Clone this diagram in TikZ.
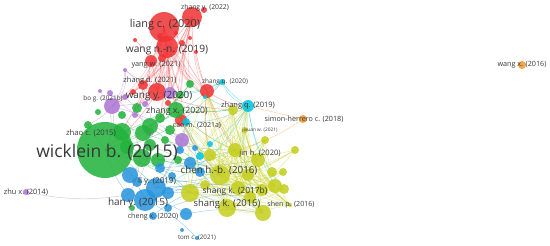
\documentclass[tikz,border=0pt]{standalone}
\usepackage{fontspec}
\setsansfont{Open Sans}
\usepackage{xcolor}
\definecolor{vosred}{RGB}{240,50,52}
\definecolor{vosgreen}{RGB}{34,178,60}
\definecolor{vosblue}{RGB}{38,148,220}
\definecolor{vosyellow}{RGB}{196,206,28}
\definecolor{vospurple}{RGB}{172,118,212}
\definecolor{voscyan}{RGB}{0,196,222}
\definecolor{vosorange}{RGB}{244,150,44}
\usetikzlibrary{positioning}
\pgfdeclarelayer{background}
\pgfsetlayers{background,main}

\begin{document}
\begin{tikzpicture}[x=1pt,y=-1pt,
  paper/.style={circle,inner sep=0pt,draw=none,fill opacity=0.86},
  link/.style={line width=0.5pt,draw opacity=0.42},
  lbl/.style={inner sep=0pt,text=black!78,font=\sffamily}]
  \useasboundingbox (0,0) rectangle (550,246);
  % papers
  \foreach \n/\x/\y/\r/\c in {
    r1/164/27/15/vosred, r2/192/17/10/vosred, r3/204/10/3/vosred,
    r4/167/47/11/vosred, r5/162/58/4/vosred, r6/151/61/6/vosred,
    r7/135/40/2/vosred, r8/182/43/3/vosred, r9/196/52/2/vosred,
    r10/190/38/2/vosred, r11/143/85/5/vosred, r12/157/92/9/vosred,
    r13/207/91/7/vosred, r14/181/120/6/vosred, r15/168/103/3/vosred,
    r16/176/33/2/vosred, r17/160/36/3/vosred, r18/133/92/3/vosred,
    p1/112/106/8/vospurple, p2/170/93/6/vospurple, p3/125/97/3/vospurple,
    p4/100/91/2/vospurple, p5/125/70/2/vospurple, p6/182/140/7/vospurple,
    p7/26/192/3/vospurple, p8/150/132/4/vospurple, p9/135/115/3/vospurple,
    p10/110/93/3/vospurple, p11/145/104/3/vospurple,
    g1/105/150/28/vosgreen, g2/176/110/8/vosgreen, g3/190/84/4/vosgreen,
    g4/180/95/4/vosgreen, g5/137/108/5/vosgreen, g6/150/126/8/vosgreen,
    g7/142/158/9/vosgreen, g8/122/132/9/vosgreen, g9/88/125/4/vosgreen,
    g10/158/160/7/vosgreen, g11/122/115/4/vosgreen, g12/170/130/5/vosgreen,
    g13/132/208/3/vosgreen, g14/178/160/4/vosgreen, g15/143/133/8/vosgreen,
    g16/160/118/5/vosgreen, g17/127/147/7/vosgreen, g18/150/145/6/vosgreen,
    g19/98/112/3/vosgreen, g20/165/140/4/vosgreen,
    b1/130/175/8/vosblue, b2/156/188/10/vosblue, b3/145/200/11/vosblue,
    b4/128/195/7/vosblue, b5/168/193/6/vosblue, b6/186/214/6/vosblue,
    b7/153/216/4/vosblue, b8/197/238/2/vosblue, b9/200/172/5/vosblue,
    b10/168/208/4/vosblue, b11/172/176/4/vosblue, b12/160/168/5/vosblue,
    b13/190/163/6/vosblue, b14/180/150/4/vosblue, b15/195/148/3/vosblue,
    b16/137/182/5/vosblue, b17/182/230/2/vosblue,
    c1/248/106/6/voscyan, c2/222/82/3/voscyan, c3/205/97/2/voscyan,
    c4/186/122/4/voscyan, c5/200/156/4/voscyan, c6/210/144/3/voscyan,
    y1/220/175/10/vosyellow, y2/235/150/7/vosyellow, y3/258/160/7/vosyellow,
    y4/190/193/9/vosyellow, y5/263/213/8/vosyellow, y6/275/186/7/vosyellow,
    y7/272/172/5/vosyellow, y8/284/189/5/vosyellow, y9/250/197/6/vosyellow,
    y10/290/205/2/vosyellow, y11/233/110/5/vosyellow, y12/265/140/4/vosyellow,
    y13/295/150/4/vosyellow, y14/238/188/7/vosyellow, y15/210/155/6/vosyellow,
    y16/227/208/9/vosyellow, y17/248/175/6/vosyellow, y18/283/172/4/vosyellow,
    y19/205/185/5/vosyellow, y20/262/190/6/vosyellow, y21/245/130/3/vosyellow,
    o1/303/119/4/vosorange, o2/522/65/4/vosorange}{
    \node[paper,fill=\c,minimum size=2*\r] (\n) at (\x,\y) {};
  }
  % citation links
  \begin{pgfonlayer}{background}
    \foreach \a in {r1,r4,r2}
      \foreach \b/\bd in {r11/12, r12/8, r13/-12, r14/-6, r15/4, g2/-4, g3/-8,
        g4/-3, p1/18, p2/3, g5/12, c3/-10, g16/6, p11/10, r18/14}
        \draw[link,vosred!70] (\a.center) to[bend left=\bd] (\b.center);
    \foreach \a/\b/\c/\bd in {
      r1/r4/vosred/0, r1/r6/vosred/10, r2/r4/vosred/5, r4/r12/vosred/5,
      r6/r12/vosred/5, r6/g5/vosred/10, r6/g1/vosred/15, r12/g1/vosred/10,
      r13/y2/vosred/-10, r14/y1/vosred/-10, r12/y11/vosred/-10,
      r7/r6/vosred/10, r8/g3/vosred/-10, r9/r13/vosred/-5, r17/r12/vosred/8,
      r13/c1/vosred/-15, r13/y15/vosred/-10, r16/r13/vosred/-10,
      p1/p5/vospurple/-30, p1/g1/vospurple/20, p1/b4/vospurple/45,
      p5/b1/vospurple/50, p1/p2/vospurple/-10, p1/p6/vospurple/10,
      p5/g9/vospurple/30, p7/b4/vospurple/-10, p6/y1/vospurple/-10,
      p6/b2/vospurple/10, p4/g1/vospurple/30, p10/p6/vospurple/-10,
      p5/p2/vospurple/-10, p3/b16/vospurple/40,
      g1/g2/vosgreen/-10, g1/g3/vosgreen/-15, g1/y1/vosgreen/-10,
      g1/y2/vosgreen/-15, g1/b2/vosgreen/10, g1/b3/vosgreen/15,
      g1/y4/vosgreen/10, g2/y2/vosgreen/-10, g2/g6/vosgreen/10,
      g2/y11/vosgreen/-5, g3/y11/vosgreen/-10, g6/y1/vosgreen/-5,
      g7/y4/vosgreen/10, g9/g1/vosgreen/0, g2/c1/vosgreen/-10,
      g12/y15/vosgreen/-5, g10/y3/vosgreen/-10, g8/g3/vosgreen/-15,
      g15/y2/vosgreen/-10, g17/y1/vosgreen/-5, g18/y17/vosgreen/-8,
      g1/c2/vosgreen/-20, g8/r13/vosgreen/-15, g15/g4/vosgreen/-5,
      c1/c2/voscyan/10, c1/y6/voscyan/-10, c1/c4/voscyan/15,
      c2/g4/voscyan/10, c2/c3/voscyan/0, c1/b2/voscyan/20,
      c4/c5/voscyan/0, c1/y5/voscyan/-20, c1/y8/voscyan/-15,
      c2/r12/voscyan/15, c1/c6/voscyan/10, c2/c1/voscyan/-25,
      b1/y1/vosblue/-15, b2/y5/vosblue/20, b3/y4/vosblue/15,
      b3/y14/vosblue/20, b4/g1/vosblue/10, b6/y5/vosblue/10,
      b2/c4/vosblue/-10, b3/b8/vosblue/10, b9/g2/vosblue/-10,
      b12/y2/vosblue/-10, b7/y4/vosblue/10, b13/y16/vosblue/10,
      b2/y16/vosblue/15, b3/b6/vosblue/15, b16/y19/vosblue/10,
      b10/y9/vosblue/15, b5/y20/vosblue/15, b14/c4/vosblue/-5,
      o1/y2/vosorange/10, o1/c1/vosorange/0}{
      \draw[link,\c] (\a.center) to[bend left=\bd] (\b.center);
    }
    \foreach \a in {y1,y3,y5,y6,y9,y10,y14,y16,y20,y4}
      \foreach \b/\bd in {y11/22, c1/28, y12/14, y21/18, y2/8, g2/12, r13/16}
        \draw[link,vosyellow] (\a.center) to[bend left=\bd] (\b.center);
    \foreach \a in {y1,y4,y16,y19,y15}
      \foreach \b in {y5,y6,y8,y18,y13,y10}
        \draw[link,vosyellow] (\a.center) to[bend right=10] (\b.center);
  \end{pgfonlayer}
  % labels
  \foreach \n/\s/\x/\y/\t in {
    liang/10.9/165/25/{liang c. (2020)}, zhy22/6.8/205/8/{zhang y. (2022)},
    wnn/10.2/167/50/{wang n.-n. (2019)}, yangw/7.3/156/65/{yang w. (2021)},
    zhd/7.4/150/81/{zhang d. (2021)}, zq20/6.4/225/82/{zhang q. (2020)},
    wy/9.9/159/96/{wang y. (2020)}, bog/6.4/103/99/{bo g. (2021b)},
    zhx/8.7/177/111/{zhang x. (2020)}, zq19/7.5/248/106/{zhang q. (2019)},
    simon/7.2/304/119/{simon-herrero c. (2018)}, wangx/7.2/522/65/{wang x. (2016)},
    zhao/7.7/91/133/{zhao c. (2015)}, cao/7.0/197/126/{cao m. (2021a)},
    jixuan/4.8/260/130/{jixuan w. (2021)}, wick/17.5/107/152/{wicklein b. (2015)},
    jin/7.5/260/154/{jin h. (2020)}, chen/9.8/219/171/{chen h.-b. (2016)},
    liy/8/157/181/{li y. (2019)}, zhu/7.4/26/192/{zhu x. (2014)},
    sk17/8.4/235/191/{shang k. (2017b)}, hany/10/138/203/{han y. (2015)},
    sk16/9.4/227/204/{shang k. (2016)}, shen/7.1/291/205/{shen p. (2016)},
    cheng/7.1/153/217/{cheng x. (2020)}, tom/6.2/197/238/{tom c. (2021)}}{
    \node[lbl] (l-\n) at (\x,\y) {\fontsize{\s}{\s}\selectfont\t};
  }
\end{tikzpicture}
\end{document}
